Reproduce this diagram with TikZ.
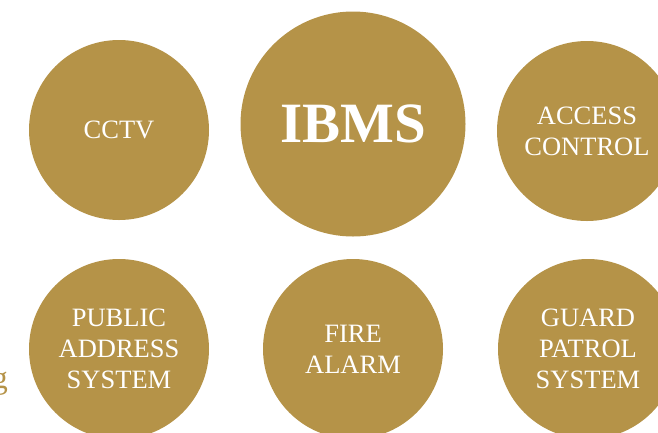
\documentclass[tikz,border=0pt]{standalone}
\usepackage{fontspec}
\setmainfont{Liberation Serif}
\definecolor{gold}{RGB}{181,147,72}
\begin{document}
\begin{tikzpicture}[x=1pt,y=-1pt,
  disc/.style={circle,fill=gold,draw=none,text=white,align=center,inner sep=0pt,font=\fontsize{26.5}{31}\selectfont},
  big/.style={disc,minimum size=225pt,font=\bfseries\fontsize{57}{60}\selectfont},
  small/.style={disc,minimum size=180pt}]
\useasboundingbox (0,0) rectangle (658,432);
\node[small] (cctv) at (119,130) {CCTV};
\node[big] (ibms) at (353,124) {IBMS};
\node[small] (access) at (587,131) {ACCESS\\CONTROL};
\node[small] (pa) at (119,349) {PUBLIC\\ADDRESS\\SYSTEM};
\node[small] (fire) at (353,349) {FIRE\\ALARM};
\node[small] (guard) at (588,349) {GUARD\\PATROL\\SYSTEM};
\node[anchor=base east,inner sep=0pt,text=gold,font=\fontsize{32}{36}\selectfont] (frag) at (8,388) {g};
\end{tikzpicture}
\end{document}
